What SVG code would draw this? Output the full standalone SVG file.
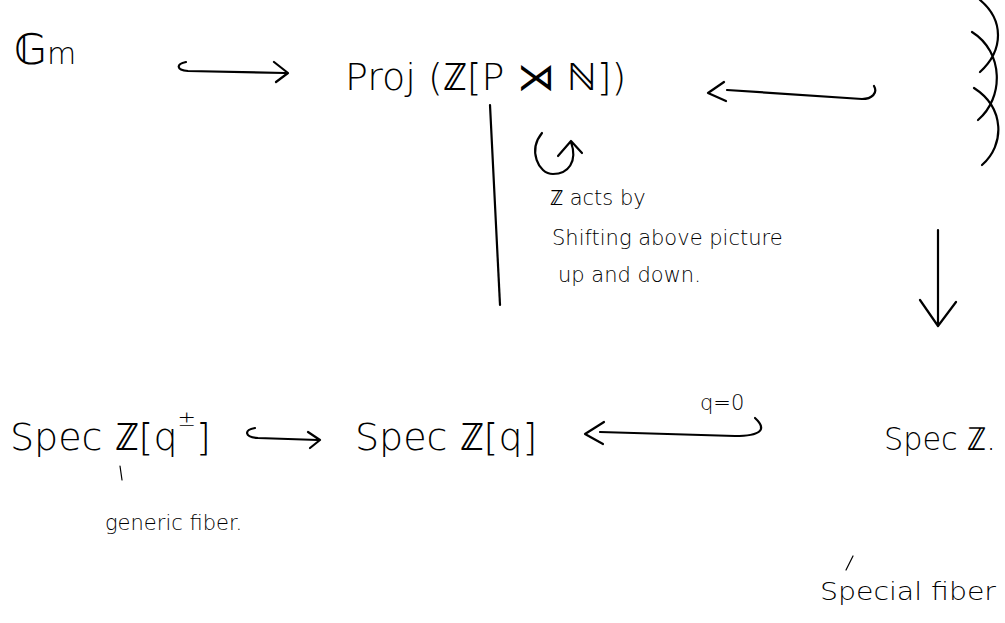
<svg xmlns="http://www.w3.org/2000/svg" width="1005" height="623" viewBox="0 0 1005 623">
<style>
text{font-family:"DejaVu Sans","Liberation Sans",sans-serif;fill:#000;font-weight:300}
.big{font-size:38px}
.note{font-size:21px}
.ln{fill:none;stroke:#000;stroke-width:2.2;stroke-linecap:round;stroke-linejoin:round}
.thin{fill:none;stroke:#000;stroke-width:1.2;stroke-linecap:round}
</style>
<rect width="1005" height="623" fill="#fff"/>
<g id="gm"><text x="14" y="64" font-size="42">𝔾<tspan font-size="30">m</tspan></text></g>
<g id="proj"><text class="big" x="345" y="90">Proj (ℤ[P ⋊ ℕ])</text></g>
<g id="torus"><path class="ln" d="M980,0 C1004,20 1004,50 980,72 M972,32 C1004,52 1004,98 978,120 M974,88 C1005,108 1005,145 982,165"/></g>
<g id="action-note"><text class="note" x="550" y="205">ℤ acts by</text><text class="note" x="552" y="245">Shifting above picture</text><text class="note" x="558" y="282">up and down.</text></g>
<g id="specqpm"><text class="big" x="10" y="450">Spec ℤ[q<tspan font-size="22" dy="-24">±</tspan><tspan dy="24">]</tspan></text></g>
<g id="specq"><text class="big" x="355" y="450">Spec ℤ[q]</text></g>
<g id="specz"><text x="884" y="450" font-size="32" textLength="112" lengthAdjust="spacingAndGlyphs">Spec ℤ.</text></g>
<g id="qlabel"><text class="note" x="700" y="410">q=0</text></g>
<g id="generic"><text class="note" x="105" y="530">generic fiber.</text></g>
<g id="special"><text x="820" y="600" font-size="24" textLength="176" lengthAdjust="spacingAndGlyphs">Special fiber</text></g>
<g id="connectors">
<path class="ln" d="M186,62 C176,64 176,70 188,71 L285,73 M274,62 L288,73 L276,82"/>
<path class="ln" d="M727,90 L862,99 C872,99 878,93 874,86 M724,82 L708,93 L726,101"/>
<path class="ln" d="M490,105 L500,305"/>
<path class="ln" d="M542,133 C528,150 538,174 553,174 C568,174 578,162 571,142 M558,156 L571,141 L582,153"/>
<path class="ln" d="M938,230 L938,325 M920,300 L938,326 L956,302"/>
<path class="ln" d="M255,428 C244,430 244,437 258,438 L318,440 M308,432 L320,440 L310,448"/>
<path class="ln" d="M600,432 L735,436 C760,436 768,430 755,418 M604,422 L585,434 L603,444"/>
<path class="thin" d="M120,466 L122,480"/>
<path class="thin" d="M846,570 L853,556"/>
</g>
</svg>
